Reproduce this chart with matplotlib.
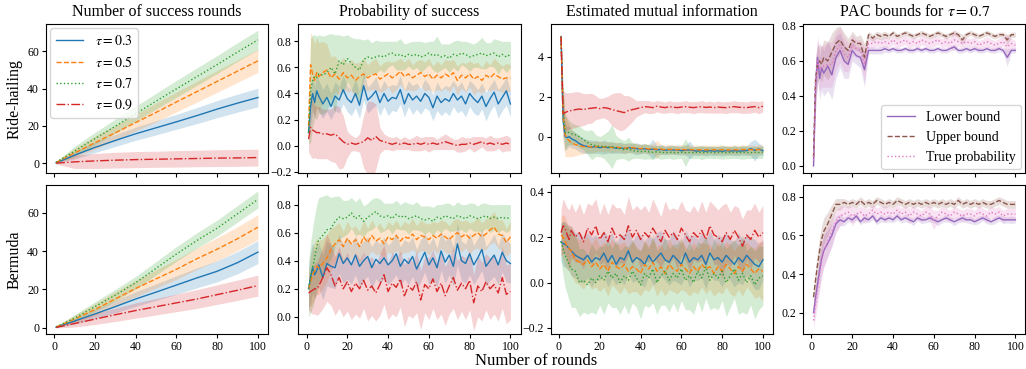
import numpy as np
import matplotlib
matplotlib.use("Agg")
import matplotlib.pyplot as plt

plt.rcParams['font.family'] = ['Liberation Serif', 'DejaVu Serif']
plt.rcParams['mathtext.fontset'] = 'stix'

taus = ['0.3', '0.5', '0.7', '0.9']
colors = ['tab:blue', 'tab:orange', 'tab:green', 'tab:red']
styles = ['-', '--', ':', '-.']

xc = [1, 10, 20, 30, 40, 50, 60, 70, 80, 90, 100]
xn = [1, 2, 3, 4, 5, 6] + list(range(8, 101, 2))

# ---------------- Ride-hailing ----------------
# number of success rounds (mean, std)
rh_succ = [
    [0.3, 4.3, 8.5, 12.2, 15.8, 19.0, 22.2, 25.5, 29.0, 32.2, 35.2],
    [0.5, 5.5, 11.0, 16.3, 21.8, 27.2, 32.8, 38.3, 43.8, 49.3, 54.8],
    [0.6, 6.5, 13.2, 19.8, 26.5, 33.2, 39.8, 46.3, 52.8, 59.5, 66.0],
    [0.1, 0.8, 1.3, 1.7, 2.0, 2.2, 2.4, 2.6, 2.8, 2.9, 3.1],
]
rh_succ_sd = [
    [0.3, 2.0, 2.8, 3.2, 3.5, 3.8, 4.0, 4.3, 4.6, 4.8, 5.0],
    [0.3, 2.5, 3.5, 4.0, 4.5, 5.0, 5.3, 5.6, 5.8, 6.0, 6.2],
    [0.4, 2.5, 3.3, 3.8, 4.0, 4.2, 4.5, 4.7, 4.8, 5.0, 5.2],
    [0.5, 3.5, 4.0, 4.2, 4.3, 4.3, 4.4, 4.4, 4.5, 4.5, 4.5],
]

# probability of success
rh_prob = [
    [0.10, 0.30, 0.40, 0.33, 0.42, 0.38, 0.32, 0.37, 0.30, 0.38, 0.35,
     0.43, 0.36, 0.33, 0.40, 0.31, 0.46, 0.35, 0.38, 0.42, 0.33,
     0.40, 0.34, 0.37, 0.36, 0.43, 0.32, 0.40, 0.35, 0.38, 0.34,
     0.40, 0.37, 0.29, 0.38, 0.33, 0.36, 0.34, 0.40, 0.35, 0.38,
     0.32, 0.40, 0.36, 0.33, 0.38, 0.30, 0.36, 0.41, 0.32, 0.37, 0.42, 0.32],
    [0.15, 0.62, 0.55, 0.50, 0.56, 0.53, 0.56, 0.58, 0.52, 0.55, 0.51,
     0.56, 0.52, 0.54, 0.50, 0.53, 0.55, 0.52, 0.54, 0.55, 0.51,
     0.53, 0.55, 0.52, 0.54, 0.57, 0.53, 0.55, 0.52, 0.54, 0.56,
     0.53, 0.55, 0.51, 0.54, 0.52, 0.55, 0.53, 0.56, 0.50, 0.54,
     0.52, 0.55, 0.51, 0.53, 0.50, 0.54, 0.52, 0.55, 0.53, 0.51, 0.52, 0.52],
    [0.10, 0.42, 0.50, 0.53, 0.52, 0.55, 0.54, 0.56, 0.60, 0.55, 0.65,
     0.62, 0.67, 0.63, 0.60, 0.58, 0.66, 0.68, 0.67, 0.68, 0.69,
     0.68, 0.70, 0.71, 0.69, 0.70, 0.68, 0.70, 0.69, 0.70, 0.68,
     0.69, 0.71, 0.69, 0.70, 0.68, 0.69, 0.67, 0.70, 0.69, 0.71,
     0.70, 0.68, 0.69, 0.70, 0.71, 0.69, 0.70, 0.71, 0.68, 0.70, 0.68, 0.70],
    [0.05, 0.14, 0.12, 0.11, 0.10, 0.10, 0.09, 0.09, 0.08, 0.09, 0.06,
     0.03, 0.01, 0.02, 0.01, 0.02, 0.03, 0.06, 0.04, 0.07, 0.04,
     0.03, 0.02, 0.01, 0.02, 0.01, 0.02, 0.01, 0.01, 0.02, 0.01,
     0.02, 0.01, 0.02, 0.01, 0.02, 0.03, 0.02, 0.01, 0.00, 0.01,
     0.01, 0.02, 0.01, 0.02, 0.03, 0.01, 0.02, 0.01, 0.02, 0.01, 0.02, 0.01],
]
rh_prob_sd = [
    [0.05, 0.14, 0.13, 0.12, 0.12, 0.12, 0.11, 0.11, 0.10, 0.11, 0.10,
     0.11, 0.10, 0.10, 0.11, 0.10, 0.11, 0.10, 0.10, 0.11, 0.10,
     0.10, 0.11, 0.10, 0.10, 0.11, 0.10, 0.10, 0.11, 0.10, 0.10,
     0.11, 0.10, 0.10, 0.11, 0.10, 0.10, 0.11, 0.10, 0.10, 0.11,
     0.10, 0.10, 0.11, 0.10, 0.10, 0.11, 0.10, 0.10, 0.11, 0.10, 0.11, 0.10],
    [0.10, 0.25, 0.28, 0.28, 0.27, 0.26, 0.24, 0.20, 0.16, 0.14, 0.12,
     0.12, 0.11, 0.12, 0.13, 0.11, 0.12, 0.10, 0.11, 0.12, 0.10,
     0.11, 0.10, 0.12, 0.11, 0.10, 0.11, 0.12, 0.10, 0.11, 0.10,
     0.11, 0.12, 0.10, 0.11, 0.10, 0.11, 0.12, 0.10, 0.11, 0.10,
     0.11, 0.10, 0.12, 0.11, 0.10, 0.11, 0.10, 0.12, 0.11, 0.10, 0.11, 0.10],
    [0.08, 0.40, 0.35, 0.32, 0.32, 0.30, 0.30, 0.29, 0.26, 0.30, 0.20,
     0.22, 0.18, 0.20, 0.22, 0.24, 0.15, 0.14, 0.12, 0.13, 0.11,
     0.12, 0.10, 0.09, 0.11, 0.12, 0.10, 0.09, 0.11, 0.10, 0.12,
     0.10, 0.09, 0.11, 0.14, 0.10, 0.09, 0.11, 0.10, 0.12, 0.09,
     0.10, 0.11, 0.09, 0.10, 0.12, 0.10, 0.09, 0.11, 0.13, 0.10, 0.12, 0.10],
    [0.10, 0.22, 0.22, 0.20, 0.20, 0.20, 0.19, 0.19, 0.20, 0.22, 0.24,
     0.20, 0.10, 0.06, 0.05, 0.07, 0.20, 0.28, 0.30, 0.25, 0.10,
     0.06, 0.05, 0.05, 0.05, 0.04, 0.05, 0.04, 0.05, 0.06, 0.05,
     0.05, 0.06, 0.05, 0.04, 0.05, 0.06, 0.05, 0.04, 0.05, 0.06,
     0.05, 0.04, 0.06, 0.05, 0.04, 0.05, 0.06, 0.05, 0.04, 0.06, 0.06, 0.05],
]

# estimated mutual information
rh_mi = [
    [5.0, 0.8, 0.0, -0.05, 0.0, -0.1, -0.2, -0.35, -0.45, -0.50, -0.52,
     -0.50, -0.55, -0.52, -0.55, -0.53, -0.58, -0.55, -0.60, -0.55, -0.58,
     -0.60, -0.62, -0.60, -0.65, -0.62, -0.66, -0.64, -0.68, -0.65, -0.67,
     -0.66, -0.70, -0.68, -0.66, -0.70, -0.72, -0.70, -0.73, -0.70, -0.72,
     -0.71, -0.73, -0.70, -0.72, -0.70, -0.72, -0.71, -0.70, -0.60, -0.68, -0.62, -0.70],
    [5.0, 1.0, 0.1, -0.1, -0.2, -0.3, -0.4, -0.45, -0.5, -0.48, -0.52,
     -0.50, -0.48, -0.52, -0.50, -0.55, -0.52, -0.55, -0.58, -0.56, -0.55,
     -0.58, -0.60, -0.58, -0.62, -0.60, -0.63, -0.62, -0.65, -0.63, -0.64,
     -0.65, -0.63, -0.66, -0.64, -0.66, -0.65, -0.67, -0.65, -0.66, -0.65,
     -0.66, -0.65, -0.67, -0.66, -0.65, -0.66, -0.64, -0.66, -0.65, -0.66, -0.64, -0.65],
    [5.0, 1.5, 0.2, 0.25, 0.2, 0.15, 0.1, 0.0, -0.15, -0.30, -0.40,
     -0.45, -0.50, -0.48, -0.52, -0.50, -0.55, -0.60, -0.65, -0.62, -0.70,
     -0.72, -0.75, -0.73, -0.76, -0.78, -0.76, -0.78, -0.80, -0.78, -0.79,
     -0.80, -0.78, -0.80, -0.79, -0.80, -0.78, -0.80, -0.79, -0.78, -0.80,
     -0.79, -0.78, -0.80, -0.79, -0.78, -0.80, -0.78, -0.79, -0.80, -0.78, -0.79, -0.78],
    [5.0, 1.15, 1.2, 1.25, 1.3, 1.3, 1.35, 1.38, 1.35, 1.40, 1.42,
     1.45, 1.40, 1.45, 1.42, 1.35, 1.30, 1.25, 1.20, 1.30, 1.35,
     1.40, 1.45, 1.50, 1.48, 1.45, 1.52, 1.48, 1.45, 1.50, 1.47,
     1.45, 1.48, 1.50, 1.47, 1.45, 1.48, 1.50, 1.46, 1.48, 1.45,
     1.48, 1.46, 1.45, 1.48, 1.50, 1.47, 1.46, 1.45, 1.48, 1.50, 1.45, 1.52],
]
rh_mi_sd = [
    [0.15, 0.9, 0.7, 0.55, 0.5, 0.45, 0.42, 0.4, 0.38, 0.35, 0.33,
     0.32, 0.30, 0.35, 0.28, 0.30, 0.25, 0.28, 0.25, 0.24, 0.25,
     0.30, 0.24, 0.22, 0.25, 0.50, 0.22, 0.24, 0.22, 0.23, 0.22,
     0.24, 0.22, 0.23, 0.45, 0.22, 0.23, 0.22, 0.24, 0.22, 0.23,
     0.22, 0.24, 0.23, 0.22, 0.24, 0.23, 0.22, 0.24, 0.35, 0.55, 0.30, 0.24],
    [0.15, 1.3, 1.1, 0.9, 0.8, 0.7, 0.55, 0.45, 0.35, 0.3, 0.28,
     0.27, 0.25, 0.26, 0.24, 0.25, 0.24, 0.23, 0.25, 0.24, 0.23,
     0.24, 0.23, 0.22, 0.24, 0.23, 0.45, 0.23, 0.22, 0.24, 0.23,
     0.22, 0.23, 0.24, 0.22, 0.23, 0.22, 0.24, 0.23, 0.22, 0.23,
     0.24, 0.22, 0.23, 0.22, 0.24, 0.23, 0.22, 0.23, 0.24, 0.22, 0.23, 0.22],
    [0.2, 1.0, 0.9, 0.7, 0.6, 0.55, 0.5, 0.55, 0.5, 0.6, 0.75,
     0.55, 0.5, 0.6, 0.8, 1.1, 0.6, 0.5, 0.45, 0.6, 0.4,
     0.35, 0.35, 0.4, 0.35, 0.35, 0.3, 0.35, 0.3, 0.3, 0.35,
     0.3, 0.3, 0.7, 0.3, 0.3, 0.3, 0.35, 0.3, 0.3, 0.3,
     0.3, 0.35, 0.3, 0.3, 0.3, 0.3, 0.35, 0.3, 0.3, 0.3, 0.3, 0.3],
    [0.2, 1.2, 1.0, 0.95, 0.9, 0.9, 0.9, 0.85, 0.8, 0.75, 0.75,
     0.6, 0.5, 0.5, 0.6, 0.8, 0.9, 0.95, 0.85, 0.75, 0.6,
     0.4, 0.35, 0.3, 0.32, 0.3, 0.28, 0.3, 0.28, 0.3, 0.28,
     0.3, 0.28, 0.3, 0.28, 0.3, 0.28, 0.3, 0.28, 0.3, 0.28,
     0.3, 0.28, 0.3, 0.28, 0.3, 0.28, 0.3, 0.28, 0.3, 0.28, 0.3, 0.28],
]

# PAC bounds (lower, upper, true)
rh_pac = [
    [0.00, 0.45, 0.62, 0.50, 0.56, 0.53, 0.57, 0.52, 0.62, 0.66, 0.60,
     0.58, 0.66, 0.63, 0.62, 0.55, 0.66, 0.66, 0.66, 0.66, 0.67,
     0.66, 0.67, 0.66, 0.66, 0.67, 0.66, 0.66, 0.67, 0.66, 0.67,
     0.66, 0.66, 0.67, 0.66, 0.66, 0.67, 0.68, 0.66, 0.66, 0.67,
     0.66, 0.67, 0.66, 0.66, 0.67, 0.66, 0.66, 0.67, 0.66, 0.62, 0.66, 0.66],
    [0.05, 0.50, 0.58, 0.60, 0.58, 0.62, 0.60, 0.65, 0.70, 0.72, 0.68,
     0.66, 0.72, 0.70, 0.70, 0.62, 0.75, 0.73, 0.75, 0.74, 0.75,
     0.74, 0.76, 0.74, 0.75, 0.76, 0.75, 0.74, 0.75, 0.76, 0.75,
     0.74, 0.75, 0.76, 0.75, 0.74, 0.75, 0.76, 0.75, 0.72, 0.75,
     0.76, 0.75, 0.74, 0.75, 0.76, 0.75, 0.74, 0.75, 0.75, 0.72, 0.75, 0.75],
    [0.03, 0.47, 0.60, 0.55, 0.57, 0.57, 0.58, 0.58, 0.66, 0.69, 0.64,
     0.62, 0.69, 0.67, 0.66, 0.58, 0.70, 0.70, 0.71, 0.70, 0.71,
     0.70, 0.72, 0.70, 0.71, 0.72, 0.70, 0.71, 0.70, 0.72, 0.71,
     0.70, 0.71, 0.72, 0.70, 0.71, 0.70, 0.72, 0.71, 0.70, 0.71,
     0.70, 0.71, 0.69, 0.70, 0.71, 0.70, 0.69, 0.70, 0.71, 0.68, 0.70, 0.69],
]
rh_pac_sd = [
    [0.02, 0.15, 0.12, 0.12, 0.13, 0.13, 0.14, 0.14, 0.12, 0.10, 0.10,
     0.08, 0.06, 0.05, 0.06, 0.10, 0.02, 0.02, 0.02, 0.02, 0.02,
     0.015, 0.015, 0.015, 0.015, 0.015, 0.015, 0.015, 0.015, 0.015, 0.015,
     0.015, 0.015, 0.015, 0.015, 0.015, 0.015, 0.015, 0.015, 0.015, 0.015,
     0.015, 0.015, 0.015, 0.015, 0.015, 0.015, 0.015, 0.015, 0.015, 0.05, 0.015, 0.015],
    [0.02, 0.12, 0.10, 0.10, 0.10, 0.10, 0.11, 0.11, 0.09, 0.08, 0.08,
     0.07, 0.05, 0.04, 0.05, 0.08, 0.02, 0.02, 0.02, 0.02, 0.02,
     0.015, 0.015, 0.015, 0.015, 0.015, 0.015, 0.015, 0.015, 0.015, 0.015,
     0.015, 0.015, 0.015, 0.015, 0.015, 0.015, 0.015, 0.015, 0.03, 0.015,
     0.015, 0.015, 0.015, 0.015, 0.015, 0.015, 0.015, 0.015, 0.015, 0.03, 0.015, 0.015],
    [0.03, 0.14, 0.12, 0.12, 0.12, 0.12, 0.13, 0.13, 0.11, 0.10, 0.10,
     0.08, 0.06, 0.05, 0.06, 0.10, 0.03, 0.03, 0.025, 0.025, 0.03,
     0.025, 0.025, 0.03, 0.025, 0.025, 0.03, 0.025, 0.025, 0.03, 0.025,
     0.025, 0.03, 0.025, 0.025, 0.03, 0.025, 0.06, 0.025, 0.03, 0.025,
     0.025, 0.03, 0.025, 0.025, 0.03, 0.025, 0.025, 0.03, 0.025, 0.07, 0.03, 0.025],
]

# ---------------- Bermuda ----------------
bm_succ = [
    [0.3, 3.5, 7.2, 11.0, 15.0, 18.6, 22.3, 26.0, 29.5, 34.0, 39.5],
    [0.4, 4.5, 9.5, 15.0, 20.5, 25.5, 30.5, 36.0, 41.0, 46.5, 52.5],
    [0.5, 5.0, 11.0, 17.0, 23.5, 31.0, 38.5, 45.5, 52.0, 59.5, 67.0],
    [0.2, 2.2, 4.5, 6.8, 9.0, 11.0, 13.0, 15.0, 17.3, 19.6, 22.0],
]
bm_succ_sd = [
    [0.3, 1.5, 2.5, 3.2, 3.8, 4.3, 4.8, 5.2, 5.5, 5.8, 6.0],
    [0.3, 2.0, 3.0, 3.8, 4.3, 4.8, 5.2, 5.6, 6.0, 6.2, 6.5],
    [0.3, 1.8, 2.5, 3.0, 3.3, 3.5, 3.8, 4.0, 4.2, 4.3, 4.5],
    [0.3, 1.8, 2.8, 3.5, 4.0, 4.3, 4.6, 4.9, 5.1, 5.3, 5.5],
]

bm_prob = [
    [0.20, 0.28, 0.35, 0.30, 0.33, 0.37, 0.28, 0.38, 0.36, 0.35, 0.45,
     0.38, 0.42, 0.37, 0.44, 0.36, 0.40, 0.43, 0.35, 0.41, 0.38,
     0.42, 0.37, 0.40, 0.45, 0.36, 0.41, 0.38, 0.43, 0.34, 0.40,
     0.46, 0.37, 0.42, 0.35, 0.47, 0.39, 0.44, 0.36, 0.52, 0.40,
     0.38, 0.45, 0.37, 0.42, 0.48, 0.36, 0.40, 0.44, 0.37, 0.46, 0.40, 0.38],
    [0.20, 0.25, 0.30, 0.33, 0.36, 0.35, 0.38, 0.42, 0.48, 0.52, 0.55,
     0.50, 0.56, 0.52, 0.55, 0.50, 0.57, 0.53, 0.58, 0.54, 0.56,
     0.52, 0.57, 0.55, 0.58, 0.54, 0.57, 0.56, 0.59, 0.55, 0.58,
     0.57, 0.55, 0.58, 0.56, 0.59, 0.57, 0.55, 0.58, 0.60, 0.57,
     0.59, 0.56, 0.58, 0.60, 0.57, 0.59, 0.62, 0.64, 0.59, 0.58, 0.53, 0.57],
    [0.20, 0.28, 0.35, 0.42, 0.50, 0.55, 0.58, 0.62, 0.63, 0.68, 0.71,
     0.70, 0.71, 0.74, 0.70, 0.72, 0.68, 0.71, 0.73, 0.75, 0.72,
     0.71, 0.72, 0.70, 0.73, 0.71, 0.72, 0.70, 0.71, 0.72, 0.70,
     0.69, 0.70, 0.68, 0.71, 0.70, 0.72, 0.71, 0.70, 0.72, 0.71,
     0.70, 0.72, 0.71, 0.70, 0.71, 0.72, 0.70, 0.71, 0.70, 0.71, 0.70, 0.71],
    [0.17, 0.18, 0.19, 0.20, 0.20, 0.22, 0.28, 0.35, 0.30, 0.22, 0.28,
     0.20, 0.25, 0.18, 0.24, 0.20, 0.26, 0.19, 0.22, 0.17, 0.23,
     0.30, 0.18, 0.24, 0.21, 0.27, 0.15, 0.22, 0.19, 0.25, 0.12,
     0.23, 0.20, 0.27, 0.18, 0.24, 0.15, 0.22, 0.28, 0.19, 0.24,
     0.20, 0.26, 0.10, 0.22, 0.18, 0.25, 0.20, 0.23, 0.17, 0.28, 0.16, 0.18],
]
bm_prob_sd = [
    [0.15, 0.18, 0.18, 0.17, 0.17, 0.16, 0.16, 0.16, 0.15, 0.15, 0.14,
     0.14, 0.15, 0.14, 0.14, 0.15, 0.14, 0.14, 0.15, 0.14, 0.14,
     0.15, 0.14, 0.14, 0.15, 0.14, 0.14, 0.15, 0.14, 0.14, 0.15,
     0.14, 0.14, 0.15, 0.14, 0.14, 0.15, 0.14, 0.14, 0.15, 0.14,
     0.14, 0.15, 0.14, 0.14, 0.15, 0.14, 0.14, 0.15, 0.14, 0.14, 0.15, 0.14],
    [0.12, 0.18, 0.20, 0.20, 0.20, 0.19, 0.18, 0.17, 0.15, 0.13, 0.12,
     0.11, 0.12, 0.11, 0.10, 0.11, 0.12, 0.10, 0.11, 0.10, 0.11,
     0.10, 0.11, 0.10, 0.11, 0.10, 0.11, 0.10, 0.11, 0.10, 0.11,
     0.10, 0.11, 0.10, 0.11, 0.10, 0.11, 0.10, 0.11, 0.10, 0.11,
     0.10, 0.11, 0.10, 0.11, 0.10, 0.11, 0.10, 0.11, 0.10, 0.11, 0.10, 0.11],
    [0.20, 0.25, 0.28, 0.30, 0.30, 0.30, 0.28, 0.25, 0.22, 0.18, 0.15,
     0.13, 0.12, 0.11, 0.12, 0.13, 0.11, 0.10, 0.11, 0.10, 0.12,
     0.10, 0.09, 0.11, 0.10, 0.09, 0.10, 0.11, 0.09, 0.10, 0.09,
     0.10, 0.09, 0.10, 0.09, 0.10, 0.09, 0.10, 0.09, 0.10, 0.09,
     0.10, 0.09, 0.10, 0.09, 0.10, 0.09, 0.10, 0.09, 0.10, 0.09, 0.10, 0.09],
    [0.12, 0.15, 0.17, 0.18, 0.19, 0.20, 0.22, 0.24, 0.22, 0.21, 0.22,
     0.20, 0.21, 0.20, 0.22, 0.21, 0.20, 0.22, 0.21, 0.20, 0.22,
     0.21, 0.20, 0.22, 0.21, 0.20, 0.22, 0.21, 0.20, 0.22, 0.21,
     0.20, 0.22, 0.21, 0.20, 0.22, 0.21, 0.20, 0.22, 0.21, 0.20,
     0.22, 0.21, 0.20, 0.22, 0.21, 0.20, 0.22, 0.21, 0.20, 0.22, 0.21, 0.20],
]

bm_mi = [
    [0.18, 0.17, 0.17, 0.16, 0.15, 0.14, 0.12, 0.11, 0.10, 0.12, 0.09,
     0.11, 0.10, 0.13, 0.09, 0.12, 0.08, 0.11, 0.10, 0.14, 0.09,
     0.11, 0.10, 0.08, 0.12, 0.09, 0.11, 0.13, 0.10, 0.09, 0.12,
     0.10, 0.08, 0.13, 0.09, 0.11, 0.10, 0.12, 0.08, 0.13, 0.10,
     0.11, 0.09, 0.12, 0.10, 0.08, 0.11, 0.09, 0.12, 0.10, 0.08, 0.07, 0.10],
    [0.21, 0.20, 0.18, 0.16, 0.15, 0.14, 0.10, 0.09, 0.08, 0.10, 0.07,
     0.09, 0.06, 0.08, 0.05, 0.09, 0.07, 0.06, 0.08, 0.05, 0.07,
     0.06, 0.04, 0.08, 0.06, 0.09, 0.05, 0.07, 0.04, 0.08, 0.06,
     0.05, 0.08, 0.06, 0.04, 0.07, 0.05, 0.08, 0.06, 0.07, 0.04,
     0.07, 0.05, 0.08, 0.06, 0.04, 0.07, 0.05, 0.08, 0.06, 0.04, 0.06, 0.05],
    [0.18, 0.15, 0.12, 0.10, 0.08, 0.06, 0.05, 0.00, 0.01, -0.01, 0.02,
     0.00, 0.03, 0.01, 0.05, 0.02, 0.04, 0.00, 0.03, 0.01, 0.05,
     0.02, -0.01, 0.04, 0.02, 0.06, 0.00, 0.03, 0.05, 0.01, 0.04,
     0.02, 0.06, 0.01, 0.03, 0.00, 0.05, 0.02, 0.07, 0.01, 0.04,
     0.02, 0.05, 0.00, 0.03, 0.06, 0.01, 0.04, 0.00, 0.03, -0.01, 0.02, 0.03],
    [0.22, 0.25, 0.24, 0.21, 0.19, 0.23, 0.20, 0.22, 0.18, 0.24, 0.21,
     0.25, 0.19, 0.22, 0.18, 0.24, 0.20, 0.21, 0.19, 0.25, 0.20,
     0.23, 0.19, 0.22, 0.20, 0.24, 0.21, 0.18, 0.23, 0.20, 0.22,
     0.19, 0.24, 0.21, 0.18, 0.22, 0.20, 0.23, 0.19, 0.25, 0.21,
     0.20, 0.18, 0.22, 0.19, 0.23, 0.20, 0.16, 0.21, 0.19, 0.23, 0.20, 0.22],
]
bm_mi_sd = [
    [0.08, 0.10, 0.10, 0.10, 0.10, 0.11, 0.10, 0.11, 0.10, 0.10, 0.11,
     0.10, 0.09, 0.10, 0.11, 0.10, 0.09, 0.10, 0.11, 0.10, 0.09,
     0.10, 0.11, 0.10, 0.09, 0.10, 0.11, 0.10, 0.09, 0.10, 0.11,
     0.10, 0.09, 0.10, 0.11, 0.10, 0.09, 0.10, 0.11, 0.10, 0.09,
     0.10, 0.11, 0.10, 0.09, 0.10, 0.11, 0.10, 0.09, 0.10, 0.11, 0.10, 0.09],
    [0.08, 0.10, 0.11, 0.10, 0.10, 0.11, 0.10, 0.10, 0.11, 0.10, 0.10,
     0.11, 0.10, 0.10, 0.11, 0.10, 0.10, 0.11, 0.10, 0.10, 0.11,
     0.10, 0.10, 0.11, 0.10, 0.10, 0.11, 0.10, 0.10, 0.11, 0.10,
     0.10, 0.11, 0.10, 0.10, 0.11, 0.10, 0.10, 0.11, 0.10, 0.10,
     0.11, 0.10, 0.10, 0.11, 0.10, 0.10, 0.11, 0.10, 0.10, 0.11, 0.12, 0.13],
    [0.08, 0.12, 0.14, 0.15, 0.16, 0.17, 0.16, 0.15, 0.14, 0.13, 0.15,
     0.14, 0.13, 0.15, 0.14, 0.13, 0.15, 0.14, 0.13, 0.15, 0.14,
     0.13, 0.15, 0.14, 0.13, 0.15, 0.14, 0.13, 0.15, 0.14, 0.13,
     0.15, 0.14, 0.13, 0.15, 0.14, 0.13, 0.15, 0.14, 0.13, 0.15,
     0.14, 0.13, 0.15, 0.14, 0.13, 0.15, 0.17, 0.14, 0.13, 0.15, 0.14, 0.13],
    [0.10, 0.12, 0.11, 0.12, 0.13, 0.12, 0.11, 0.13, 0.12, 0.11, 0.13,
     0.12, 0.11, 0.13, 0.12, 0.11, 0.13, 0.12, 0.11, 0.13, 0.12,
     0.11, 0.13, 0.12, 0.11, 0.13, 0.12, 0.11, 0.13, 0.12, 0.11,
     0.13, 0.12, 0.11, 0.13, 0.12, 0.11, 0.13, 0.12, 0.11, 0.13,
     0.12, 0.16, 0.13, 0.12, 0.11, 0.13, 0.12, 0.11, 0.13, 0.12, 0.11, 0.12],
]

bm_pac = [
    [0.20, 0.28, 0.35, 0.42, 0.48, 0.52, 0.56, 0.60, 0.66, 0.68, 0.67,
     0.69, 0.68, 0.70, 0.67, 0.69, 0.68, 0.70, 0.67, 0.69, 0.68,
     0.69, 0.68, 0.70, 0.68, 0.69, 0.68, 0.67, 0.69, 0.68, 0.68,
     0.69, 0.68, 0.67, 0.68, 0.69, 0.68, 0.67, 0.68, 0.69, 0.68,
     0.68, 0.67, 0.68, 0.69, 0.68, 0.67, 0.68, 0.69, 0.68, 0.68, 0.68, 0.68],
    [0.28, 0.37, 0.45, 0.52, 0.58, 0.62, 0.66, 0.71, 0.76, 0.76, 0.77,
     0.76, 0.77, 0.76, 0.78, 0.76, 0.77, 0.76, 0.78, 0.77, 0.76,
     0.77, 0.76, 0.78, 0.77, 0.76, 0.77, 0.76, 0.77, 0.76, 0.77,
     0.76, 0.77, 0.76, 0.77, 0.76, 0.77, 0.76, 0.78, 0.76, 0.77,
     0.76, 0.77, 0.76, 0.77, 0.76, 0.76, 0.77, 0.78, 0.77, 0.76, 0.76, 0.76],
    [0.16, 0.25, 0.32, 0.40, 0.47, 0.52, 0.57, 0.62, 0.67, 0.70, 0.71,
     0.72, 0.70, 0.71, 0.72, 0.70, 0.71, 0.73, 0.71, 0.72, 0.71,
     0.72, 0.71, 0.73, 0.71, 0.72, 0.70, 0.72, 0.71, 0.70, 0.72,
     0.71, 0.68, 0.70, 0.72, 0.71, 0.70, 0.72, 0.71, 0.70, 0.71,
     0.71, 0.70, 0.72, 0.71, 0.70, 0.72, 0.71, 0.72, 0.70, 0.71, 0.71, 0.71],
]
bm_pac_sd = [
    [0.04, 0.06, 0.07, 0.08, 0.08, 0.08, 0.07, 0.06, 0.04, 0.03, 0.02,
     0.02, 0.015, 0.02, 0.015, 0.02, 0.015, 0.02, 0.015, 0.02, 0.015,
     0.02, 0.015, 0.02, 0.015, 0.02, 0.015, 0.02, 0.015, 0.02, 0.015,
     0.02, 0.015, 0.02, 0.015, 0.02, 0.015, 0.02, 0.015, 0.02, 0.015,
     0.02, 0.015, 0.02, 0.015, 0.02, 0.015, 0.02, 0.015, 0.02, 0.015, 0.02, 0.015],
    [0.04, 0.06, 0.07, 0.07, 0.07, 0.07, 0.06, 0.05, 0.03, 0.03, 0.02,
     0.02, 0.02, 0.02, 0.02, 0.02, 0.02, 0.02, 0.02, 0.02, 0.02,
     0.02, 0.02, 0.02, 0.02, 0.02, 0.02, 0.02, 0.02, 0.02, 0.02,
     0.02, 0.02, 0.02, 0.02, 0.02, 0.02, 0.02, 0.02, 0.02, 0.02,
     0.02, 0.02, 0.02, 0.02, 0.02, 0.02, 0.02, 0.02, 0.02, 0.02, 0.02, 0.02],
    [0.04, 0.07, 0.08, 0.09, 0.09, 0.09, 0.08, 0.07, 0.06, 0.05, 0.04,
     0.03, 0.05, 0.03, 0.03, 0.04, 0.03, 0.03, 0.03, 0.03, 0.04,
     0.03, 0.03, 0.03, 0.03, 0.03, 0.04, 0.03, 0.03, 0.03, 0.03,
     0.04, 0.05, 0.03, 0.03, 0.03, 0.03, 0.03, 0.03, 0.03, 0.03,
     0.03, 0.03, 0.03, 0.03, 0.03, 0.03, 0.03, 0.03, 0.03, 0.03, 0.03, 0.03],
]

pac_labels = ['Lower bound', 'Upper bound', 'True probability']
pac_colors = ['tab:purple', 'tab:brown', 'tab:pink']
pac_styles = ['-', '--', ':']

titles = ['Number of success rounds', 'Probability of success',
          'Estimated mutual information', r'PAC bounds for $\tau=0.7$']
row_names = ['Ride-hailing', 'Bermuda']
ylims = [[(-5.3, 74.5), (-0.212, 0.933), (-1.83, 5.63), (-0.042, 0.811)],
         [(-3.5, 74.4), (-0.126, 0.938), (-0.229, 0.429), (0.0876, 0.859)]]


def draw(ax, x, means, sds, cols, lss, labels=None):
    for i in range(len(means)):
        m = np.array(means[i])
        s = np.array(sds[i])
        ax.fill_between(x, m - s, m + s, color=cols[i], alpha=0.2, linewidth=0)
        lab = labels[i] if labels else None
        ax.plot(x, m, color=cols[i], linestyle=lss[i], linewidth=1.0, label=lab)


fig, axes = plt.subplots(2, 4, figsize=(10.26, 3.69), dpi=100, sharex=True)
fig.subplots_adjust(left=0.0448, right=0.9995, top=0.935, bottom=0.0935,
                    wspace=0.137, hspace=0.08)

tau_labels = [r'$\tau=' + t + '$' for t in taus]
data = [[(xc, rh_succ, rh_succ_sd), (xn, rh_prob, rh_prob_sd), (xn, rh_mi, rh_mi_sd)],
        [(xc, bm_succ, bm_succ_sd), (xn, bm_prob, bm_prob_sd), (xn, bm_mi, bm_mi_sd)]]
pacs = [(rh_pac, rh_pac_sd), (bm_pac, bm_pac_sd)]

for r in range(2):
    for c in range(3):
        x, m, s = data[r][c]
        draw(axes[r, c], x, m, s, colors, styles, tau_labels)
    draw(axes[r, 3], xn, pacs[r][0], pacs[r][1], pac_colors, pac_styles, pac_labels)
    axes[r, 0].set_ylabel(row_names[r], fontsize=11.5, labelpad=3)
    for c in range(4):
        ax = axes[r, c]
        ax.set_ylim(*ylims[r][c])
        ax.set_xticks([0, 20, 40, 60, 80, 100])
        ax.tick_params(labelsize=8.5, length=3, width=0.8, pad=2)
        if r == 0:
            ax.set_title(titles[c], fontsize=11.5)

axes[0, 0].set_yticks([0, 20, 40, 60])
axes[1, 0].set_yticks([0, 20, 40, 60])
axes[0, 1].set_yticks([-0.2, 0.0, 0.2, 0.4, 0.6, 0.8])
axes[1, 1].set_yticks([0.0, 0.2, 0.4, 0.6, 0.8])
axes[0, 2].set_yticks([0, 2, 4])
axes[1, 2].set_yticks([-0.2, 0.0, 0.2, 0.4])
axes[0, 3].set_yticks([0.0, 0.2, 0.4, 0.6, 0.8])
axes[1, 3].set_yticks([0.2, 0.4, 0.6, 0.8])

axes[0, 0].legend(loc='upper left', fontsize=10, borderaxespad=0.3)
axes[0, 3].legend(loc='lower right', fontsize=10, borderaxespad=0.3)

fig.text(0.5224, 0.01, 'Number of rounds', ha='center', va='baseline', fontsize=12)

fig.savefig('out.png', dpi=100)
